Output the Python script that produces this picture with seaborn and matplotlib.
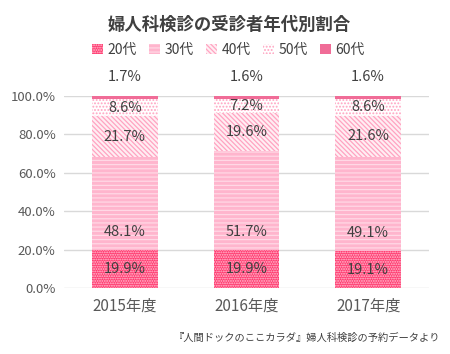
import matplotlib
matplotlib.use("Agg")
import matplotlib.pyplot as plt
import seaborn as sns
import numpy as np
import pandas as pd
from matplotlib.patches import Patch

years = ["2015年度", "2016年度", "2017年度"]
series_names = ["20代", "30代", "40代", "50代", "60代"]
v20 = [19.9, 19.9, 19.1]
v30 = [48.1, 51.7, 49.1]
v40 = [21.7, 19.6, 21.6]
v50 = [8.6, 7.2, 8.6]
v60 = [1.7, 1.6, 1.6]
yticks = [0, 20, 40, 60, 80, 100]

sns.set_theme(style="white")
plt.rcParams['font.family'] = ['Noto Sans CJK JP', 'DejaVu Sans']
plt.rcParams['hatch.linewidth'] = 0.9

styles = [
    dict(face="#ff3b70", hatch_color="#ffc4d5", hatch="......."),
    dict(face="#ffb5cd", hatch_color="#ffd8e5", hatch="----"),
    dict(face="#ffeef3", hatch_color="#ffa3c1", hatch="\\" * 7),
    dict(face="#ffffff", hatch_color="#ffa3c1", hatch="....."),
    dict(face="#f06c97", hatch_color="#f06c97", hatch=None),
]

fig = plt.figure(figsize=(4.5, 3.54), dpi=100)
ax = fig.add_axes([64/450, 1-288/354, 365/450, 192/354])

data = [v20, v30, v40, v50, v60]
bottom = np.zeros(3)
txt = "#404040"
for i, (vals, st) in enumerate(zip(data, styles)):
    n_before = len(ax.patches)
    df = pd.DataFrame({"year": years, "val": vals})
    sns.barplot(data=df, x="year", y="val", bottom=bottom, color=st["face"],
                saturation=1, width=0.54, ax=ax, errorbar=None)
    for p in ax.patches[n_before:]:
        p.set_facecolor(st["face"])
        p.set_edgecolor(st["hatch_color"])
        p.set_linewidth(0)
        if st["hatch"]:
            p.set_hatch(st["hatch"])
    for j, v in enumerate(vals):
        if i == 1:
            y = bottom[j] + 9.5
        elif i == 4:
            y = 110
        else:
            y = bottom[j] + v / 2
        ax.text(j, y, f"{v:.1f}%", ha="center", va="center", fontsize=10.5,
                color=txt, clip_on=False)
    bottom = bottom + np.array(vals)

ax.set_ylim(0, 100)
ax.set_xlim(-0.5, 2.5)
ax.set_yticks(yticks)
ax.set_yticklabels([f"{t:.1f}%" for t in yticks], fontsize=9.5, color="#595959")
ax.tick_params(axis="x", labelsize=11, labelcolor="#595959", length=0, pad=7)
ax.tick_params(axis="y", length=0, pad=6)
ax.set_xlabel("")
ax.set_ylabel("")
for s in ax.spines.values():
    s.set_visible(False)
ax.yaxis.grid(True, color="#d9d9d9", linewidth=1)
ax.set_axisbelow(True)

fig.text(0.51, 1-25/354, "婦人科検診の受診者年代別割合", ha="center", va="center",
         fontsize=12.5, fontweight="bold", color=txt)

handles = []
for name, st in zip(series_names, styles):
    handles.append(Patch(facecolor=st["face"], edgecolor=st["hatch_color"],
                         hatch=st["hatch"], linewidth=0, label=name))
leg = fig.legend(handles=handles, loc="center", bbox_to_anchor=(0.508, 1-50/354),
                 ncol=5, frameon=False, fontsize=10, handlelength=0.75, handleheight=0.75,
                 handletextpad=0.35, columnspacing=0.9)
for t in leg.get_texts():
    t.set_color(txt)

fig.text(440/450, 1-338/354, "『人間ドックのここカラダ』婦人科検診の予約データより",
         ha="right", va="center", fontsize=7.4, color="#404040")

fig.savefig("out.png", dpi=100)
